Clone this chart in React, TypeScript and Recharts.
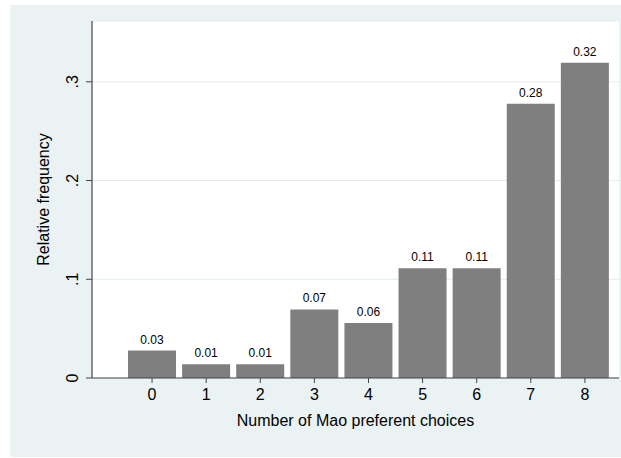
import React from "react";
import { BarChart, Bar, XAxis, YAxis, CartesianGrid, LabelList } from "recharts";

const choices = [0, 1, 2, 3, 4, 5, 6, 7, 8];
const relFreq = [0.0278, 0.0139, 0.0139, 0.0694, 0.0556, 0.1111, 0.1111, 0.2778, 0.3194];
const yTicks = [0, 0.1, 0.2, 0.3];
const yTickLabels = ["0", ".1", ".2", ".3"];

const data = choices.map((c, i) => ({ choice: c, freq: relFreq[i] }));

const FONT = "'Liberation Sans', Arial, Helvetica, sans-serif";
const AXIS = "#444";

const YTick = (props: any) => {
  const { x, y, payload } = props;
  const idx = yTicks.indexOf(payload.value);
  const label = idx >= 0 ? yTickLabels[idx] : String(payload.value);
  const tx = x - 6;
  return (
    <text
      x={tx}
      y={y}
      transform={`rotate(-90 ${tx} ${y})`}
      textAnchor="middle"
      fontSize={16}
      fontFamily={FONT}
      fill="#000"
    >
      {label}
    </text>
  );
};

export default function App() {
  return (
    <div style={{ position: "absolute", left: 0, top: 0, width: 621, height: 458, background: "#fff" }}>
      <div style={{ position: "absolute", left: 10, top: 5, width: 611, height: 452, background: "#eaf2f3" }} />
      <div style={{ position: "absolute", left: 0, top: 0 }}>
        <BarChart
          width={621}
          height={458}
          data={data}
          margin={{ top: 21, right: 2, left: 10, bottom: 5 }}
          style={{ fontFamily: FONT }}
        >
          <CartesianGrid vertical={false} stroke="#e2ecee" fill="#ffffff" />
          <XAxis
            type="number"
            dataKey="choice"
            domain={[-1.11, 8.63]}
            allowDataOverflow
            ticks={choices}
            interval={0}
            height={75}
            tickSize={5}
            tickMargin={6}
            stroke={AXIS}
            tickLine={{ stroke: AXIS }}
            axisLine={{ stroke: AXIS, strokeWidth: 1.2 }}
            tick={{ fontSize: 16, fill: "#000", fontFamily: FONT }}
            label={{
              content: (p: any) => {
                const vb = p.viewBox;
                return (
                  <text
                    x={vb.x + vb.width / 2}
                    y={vb.y + 48}
                    textAnchor="middle"
                    fontSize={16}
                    fontFamily={FONT}
                    fill="#000"
                  >
                    Number of Mao preferent choices
                  </text>
                );
              },
            }}
          />
          <YAxis
            type="number"
            domain={[0, 0.3616]}
            allowDataOverflow
            ticks={yTicks}
            interval={0}
            width={82}
            tickSize={6}
            tickMargin={2}
            stroke={AXIS}
            tickLine={{ stroke: AXIS }}
            axisLine={{ stroke: AXIS, strokeWidth: 1.2 }}
            tick={<YTick />}
            label={{
              content: (p: any) => {
                const vb = p.viewBox;
                const lx = vb.x + 39;
                const ly = vb.y + vb.height / 2;
                return (
                  <text
                    x={lx}
                    y={ly}
                    transform={`rotate(-90 ${lx} ${ly})`}
                    textAnchor="middle"
                    fontSize={16}
                    fontFamily={FONT}
                    fill="#000"
                  >
                    Relative frequency
                  </text>
                );
              },
            }}
          />
          <Bar dataKey="freq" fill="#7f7f7f" barSize={48} isAnimationActive={false}>
            <LabelList
              dataKey="freq"
              position="top"
              offset={7}
              fontSize={12}
              fill="#000"
              fontFamily={FONT}
              formatter={(v: any) => Number(v).toFixed(2)}
            />
          </Bar>
        </BarChart>
      </div>
    </div>
  );
}
